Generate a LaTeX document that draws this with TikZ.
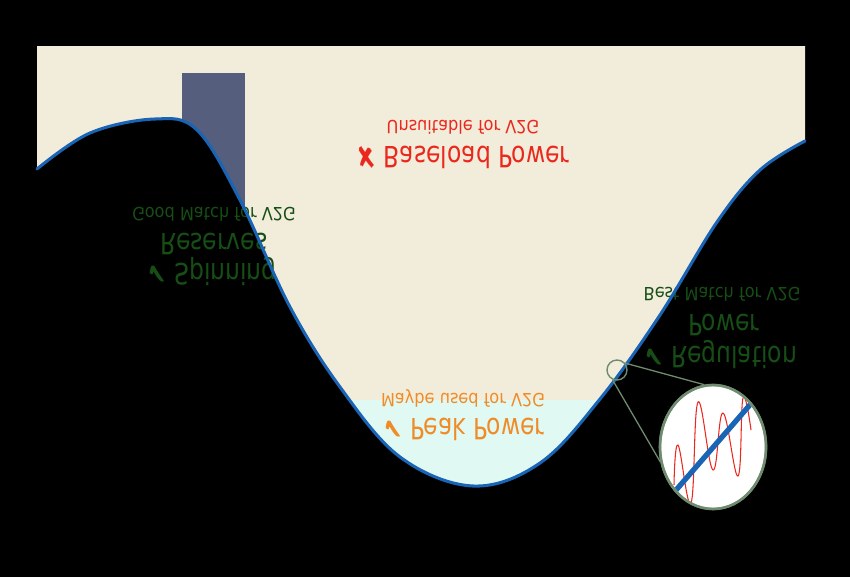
\documentclass[tikz,border=0pt]{standalone}
\usepackage{fontspec}
\setmainfont{DejaVu Sans}
\usetikzlibrary{shapes.geometric}
\definecolor{v2gbeige}{RGB}{242,236,218}
\definecolor{v2gcyan}{RGB}{224,249,243}
\definecolor{v2gslate}{RGB}{85,95,125}
\definecolor{v2gblue}{RGB}{25,100,180}
\definecolor{v2gred}{RGB}{235,40,30}
\definecolor{v2gorange}{RGB}{240,140,40}
\definecolor{v2ggreen}{RGB}{22,78,22}
\definecolor{v2glens}{RGB}{112,140,112}

\begin{document}
\begin{tikzpicture}[x=0.03cm, y=-0.03cm,
  valley/.style={insert path={-- plot[smooth, tension=0.6] coordinates {(37,169) (90,133) (155,119) (197,130) (240,200) (290,307) (340,387) (400,457) (473,486) (540,463) (600,399) (660,315) (717,222) (760,170) (805,141)}}},
  headline/.style={font=\fontsize{25}{27}\selectfont, xscale=0.8, yscale=-1, anchor=base, inner sep=0pt},
  subline/.style={font=\fontsize{15.5}{17}\selectfont, xscale=0.89, yscale=-1, anchor=base, inner sep=0pt}]
  \fill[black] (0,0) rectangle (850,577);

  % load band and valley
  \fill[v2gbeige] (805,46) -- (37,46) [valley] -- cycle;
  \begin{scope}
    \clip (805,46) -- (37,46) [valley] -- cycle;
    \fill[v2gslate] (182,73) rectangle (245,320);
    \fill[v2gcyan] (0,400) rectangle (850,577);
  \end{scope}

  % labels (printed upside down)
  \node[headline, text=v2gred] (base) at (463,146) {✘ Baseload Power};
  \node[subline, text=v2gred] (basesub) at (463,120) {Unsuitable for V2G};

  \node[headline, text=v2ggreen] (spin) at (212,263) {✔ Spinning};
  \node[headline, text=v2ggreen] (spin2) at (214,233) {Reserves};
  \node[subline, text=v2ggreen] (spinsub) at (214,207) {Good Match for V2G};

  \node[headline, text=v2ggreen] (reg) at (721,346) {✔ Regulation};
  \node[headline, text=v2ggreen] (reg2) at (724,314) {Power};
  \node[subline, text=v2ggreen] (regsub) at (722,287) {Best Match for V2G};

  \node[headline, text=v2gorange] (peak) at (464,418) {✔ Peak Power};
  \node[subline, text=v2gorange] (peaksub) at (463,393) {Maybe used for V2G};

  \draw[v2gblue, line width=2.6pt, line cap=round] (37,169) [valley];

  % zoom on the regulation signal
  \node[circle, draw=v2glens, line width=1.2pt, minimum size=0.6cm, inner sep=0pt] (lens) at (617,370) {};
  \node[ellipse, draw=v2glens, line width=2pt, fill=white, minimum width=3.18cm, minimum height=3.72cm, inner sep=0pt] (zoombox) at (713,447) {};
  \draw[v2glens, line width=1.1pt] (lens.40) -- (zoombox.98);
  \draw[v2glens, line width=1.1pt] (lens.245) -- (zoombox.196);
  \begin{scope}
    \clip (zoombox.center) ellipse [x radius=1.55cm, y radius=1.82cm];
    \draw[v2gred, line width=0.9pt] plot[smooth, tension=0.7] coordinates {(674,485) (678,445) (691,503) (698,402) (713,470) (723,413) (738,476) (743,398) (751,430)};
    \draw[v2gblue, line width=4.5pt] (670,497) -- (755,399);
  \end{scope}
  \draw[v2glens, line width=2.2pt] (zoombox.center) ellipse [x radius=1.59cm, y radius=1.86cm];
\end{tikzpicture}
\end{document}
